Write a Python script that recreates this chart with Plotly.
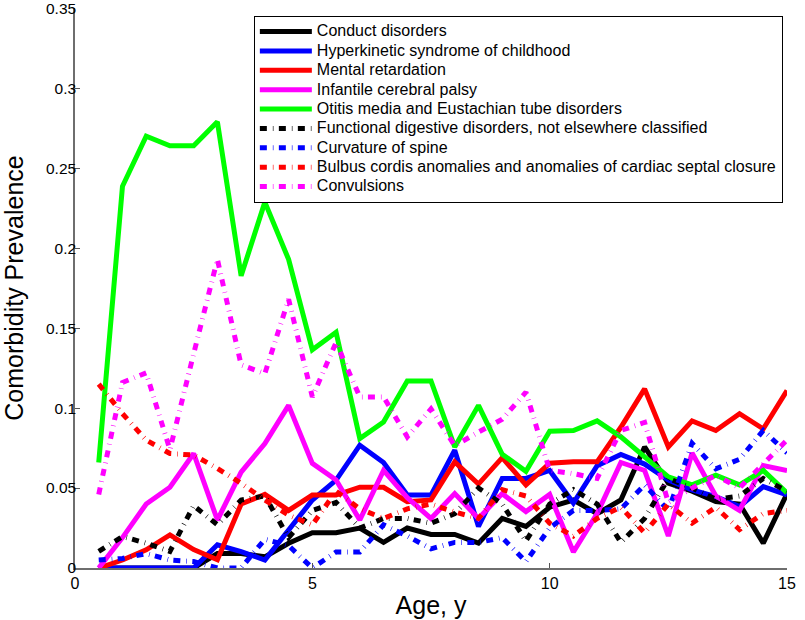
import plotly.graph_objects as go

ages = [0.5, 1.0, 1.5, 2.0, 2.5, 3.0, 3.5, 4.0, 4.5, 5.0,
        5.5, 6.0, 6.5, 7.0, 7.5, 8.0, 8.5, 9.0, 9.5, 10.0,
        10.5, 11.0, 11.5, 12.0, 12.5, 13.0, 13.5, 14.0, 14.5, 15.0]

conduct = [0.0, 0.0, 0.0, 0.0, 0.0, 0.009, 0.009, 0.007, 0.0155, 0.022,
           0.022, 0.025, 0.016, 0.025, 0.021, 0.021, 0.0155, 0.031, 0.026, 0.038,
           0.0425, 0.034, 0.0425, 0.0757, 0.053, 0.048, 0.0415, 0.040, 0.0155, 0.0465]

hyperkinetic = [0.0, 0.0, 0.0, 0.0, 0.0, 0.0145, 0.0103, 0.005, 0.024, 0.0425,
                0.055, 0.0768, 0.066, 0.0456, 0.0456, 0.0737, 0.026, 0.056, 0.056, 0.061,
                0.0406, 0.064, 0.071, 0.065, 0.055, 0.0488, 0.0447, 0.0384, 0.0509, 0.0457]

mental = [0.0, 0.005, 0.0114, 0.0207, 0.0115, 0.0052, 0.040, 0.046, 0.036, 0.0456,
          0.0456, 0.0505, 0.0505, 0.0415, 0.0426, 0.0664, 0.0525, 0.069, 0.052, 0.0655,
          0.0664, 0.0664, 0.088, 0.112, 0.0757, 0.092, 0.086, 0.0965, 0.087, 0.111]

palsy = [0.0, 0.019, 0.040, 0.0505, 0.0716, 0.030, 0.060, 0.0778, 0.1017, 0.0654,
         0.055, 0.030, 0.061, 0.044, 0.031, 0.0465, 0.031, 0.0465, 0.0353, 0.046,
         0.010, 0.034, 0.066, 0.061, 0.020, 0.072, 0.045, 0.036, 0.064, 0.061]

otitis = [0.066, 0.2387, 0.270, 0.264, 0.264, 0.279, 0.1827, 0.2288, 0.193, 0.1364,
          0.1474, 0.081, 0.0913, 0.117, 0.117, 0.0757, 0.1017, 0.0711, 0.0605, 0.0855,
          0.086, 0.092, 0.082, 0.070, 0.057, 0.052, 0.058, 0.052, 0.061, 0.047]

functional = [0.0104, 0.0197, 0.0155, 0.0104, 0.039, 0.027, 0.0425, 0.045, 0.019, 0.036,
              0.041, 0.025, 0.031, 0.031, 0.028, 0.034, 0.050, 0.040, 0.017, 0.040,
              0.049, 0.040, 0.016, 0.031, 0.056, 0.050, 0.043, 0.045, 0.056, 0.048]

curvature = [0.005, 0.006, 0.009, 0.005, 0.004, 0.0, 0.0, 0.018, 0.014, 0.0,
             0.010, 0.010, 0.027, 0.020, 0.012, 0.016, 0.016, 0.019, 0.004, 0.025,
             0.036, 0.036, 0.037, 0.052, 0.036, 0.078, 0.062, 0.068, 0.086, 0.072]

bulbus = [0.115, 0.0965, 0.080, 0.0716, 0.0706, 0.0623, 0.053, 0.0425, 0.033, 0.027,
          0.048, 0.037, 0.031, 0.037, 0.040, 0.035, 0.031, 0.049, 0.045, 0.028,
          0.020, 0.031, 0.038, 0.022, 0.040, 0.028, 0.038, 0.024, 0.034, 0.036]

convulsions = [0.046, 0.116, 0.122, 0.074, 0.134, 0.193, 0.127, 0.1216, 0.168, 0.107,
               0.141, 0.107, 0.107, 0.082, 0.0995, 0.0765, 0.085, 0.093, 0.110, 0.061,
               0.059, 0.056, 0.086, 0.091, 0.041, 0.050, 0.058, 0.050, 0.065, 0.080]

x_ticks = [0, 5, 10, 15]
y_ticks = [0, 0.05, 0.1, 0.15, 0.2, 0.25, 0.3, 0.35]
y_tick_labels = ["0", "0.05", "0.1", "0.15", "0.2", "0.25", "0.3", "0.35"]

names = [
    "Conduct disorders",
    "Hyperkinetic syndrome of childhood",
    "Mental retardation",
    "Infantile cerebral palsy",
    "Otitis media and Eustachian tube disorders",
    "Functional digestive disorders, not elsewhere classified",
    "Curvature of spine",
    "Bulbus cordis anomalies and anomalies of cardiac septal closure",
    "Convulsions",
]
series = [conduct, hyperkinetic, mental, palsy, otitis,
          functional, curvature, bulbus, convulsions]
colors = ["#000000", "#0000ff", "#ff0000", "#ff00ff", "#00ff00",
          "#000000", "#0000ff", "#ff0000", "#ff00ff"]
dashes = ["solid"] * 5 + ["7px,6px,0.6px,5.4px"] * 4

FONT = "Liberation Sans, Arial, Helvetica, sans-serif"

fig = go.Figure()
for name, vals, col, dsh in zip(names, series, colors, dashes):
    fig.add_trace(go.Scatter(
        x=ages, y=vals, mode="lines",
        name="<span style='font-size:16px'>" + name + "</span>",
        line=dict(color=col, width=5, dash=dsh),
    ))

fig.update_layout(
    width=805, height=620,
    margin=dict(l=75, r=17.5, t=7.5, b=51.7, autoexpand=False),
    paper_bgcolor="white", plot_bgcolor="white",
    font=dict(family=FONT, size=16, color="black"),
    showlegend=True,
    legend=dict(
        x=0.2512, y=0.986, xanchor="left", yanchor="top",
        bgcolor="white", bordercolor="black", borderwidth=1,
        font=dict(family=FONT, size=12.6, color="black"),
        itemwidth=52, tracegroupgap=0,
    ),
    xaxis=dict(
        range=[0, 15], tickvals=x_ticks, automargin=False,
        ticks="inside", ticklen=5, tickcolor="#555",
        showline=True, linecolor="#6e6e6e", linewidth=1.5,
        showgrid=False, zeroline=False, mirror=False,
        ticklabeloverflow="allow",
        tickfont=dict(family=FONT, size=16, color="black"),
        title=dict(text="Age, y", font=dict(family=FONT, size=25, color="black"),
                   standoff=6),
    ),
    yaxis=dict(
        range=[0, 0.3502], tickvals=y_ticks, ticktext=y_tick_labels,
        automargin=False,
        ticks="inside", ticklen=5, tickcolor="#555",
        showline=True, linecolor="#6e6e6e", linewidth=1.5,
        showgrid=False, zeroline=False, mirror=False,
        ticklabeloverflow="allow", ticklabelstandoff=-6,
        tickfont=dict(family=FONT, size=15.5, color="black"),
        title=dict(text="Comorbidity Prevalence",
                   font=dict(family=FONT, size=25, color="black"), standoff=15),
    ),
)

fig.write_html("out.html", config={"displayModeBar": False},
               post_script="document.body.style.margin='0px';")
